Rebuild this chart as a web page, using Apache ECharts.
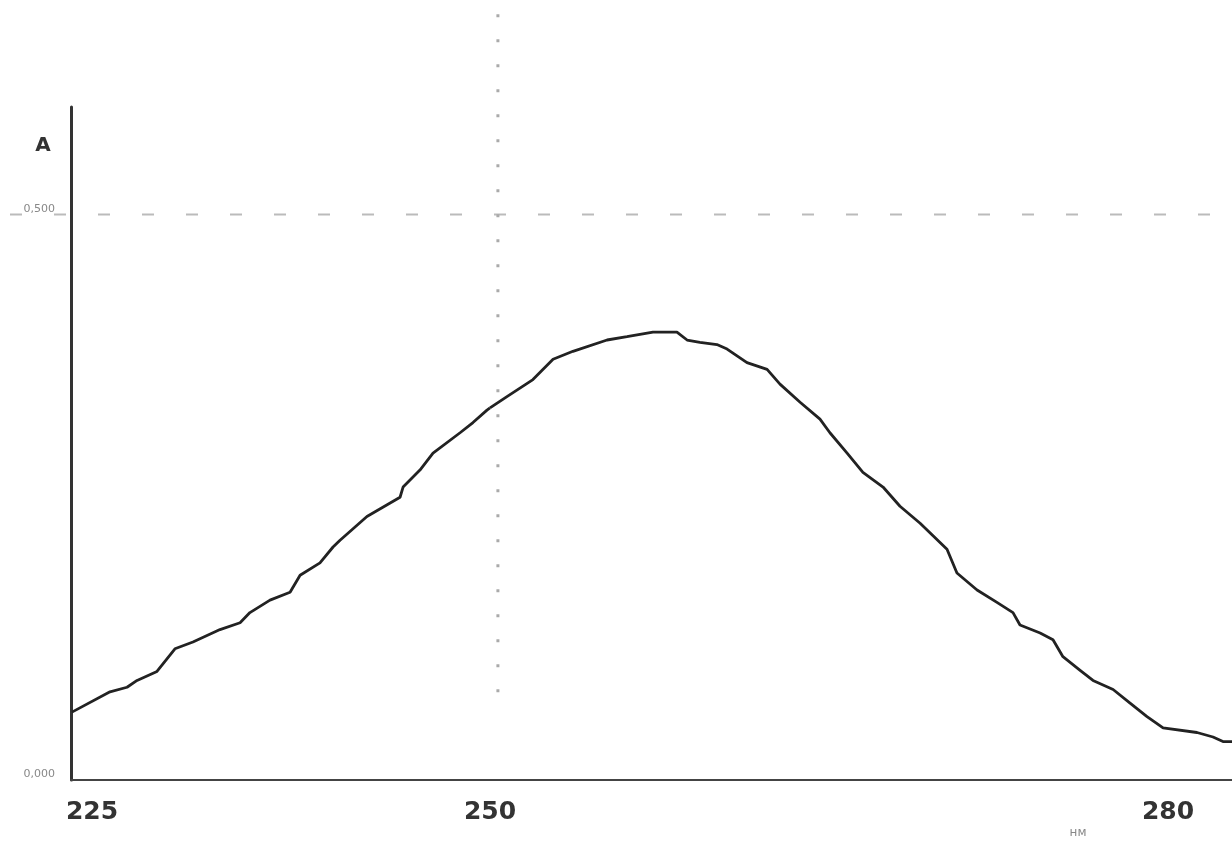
<!DOCTYPE html>
<html>
<head>
<meta charset="utf-8">
<script src="https://cdn.jsdelivr.net/npm/echarts@6/dist/echarts.min.js"></script>
<style>
  html, body { margin: 0; padding: 0; background: #fff; }
  #main { width: 1232px; height: 841px; }
</style>
</head>
<body>
<div id="main"></div>
<script>
// wavelength (nm) and absorbance
var wavelength = [
    223.74, 226.13, 227.2, 227.83, 229.08, 230.21, 231.34, 233.04, 234.3, 234.92,
    236.18, 237.44, 238.07, 239.32, 240.14, 240.58, 242.27, 244.35, 244.54, 245.6,
    246.42, 248.12, 248.93, 249.81, 250,
    250.75, 251.9, 252.79, 253.67, 255.18, 256.06, 257.21, 258.27, 258.72, 259.29,
    260.04, 260.49, 261.37, 262.26, 262.83, 263.72, 264.6, 265.04, 265.8, 266.5,
    267.39, 268.14, 269.03, 270.22, 270.66, 271.55, 272.43, 273.14, 273.45, 274.34,
    274.91, 275.35, 276.11, 276.68, 277.57, 278.32, 279.07, 279.78, 281.28, 281.99,
    282.43, 282.83
];
var absorbance = [
    0.060, 0.078, 0.082, 0.088, 0.096, 0.116, 0.122, 0.133, 0.139, 0.148,
    0.159, 0.166, 0.181, 0.192, 0.206, 0.212, 0.233, 0.250, 0.259, 0.274,
    0.289, 0.307, 0.316, 0.327, 0.329,
    0.339, 0.354, 0.372, 0.379, 0.389, 0.392, 0.396, 0.396, 0.389, 0.387,
    0.385, 0.381, 0.369, 0.363, 0.350, 0.334, 0.319, 0.307, 0.289, 0.272,
    0.259, 0.242, 0.227, 0.204, 0.183, 0.168, 0.157, 0.148, 0.137, 0.130,
    0.124, 0.109, 0.097, 0.088, 0.080, 0.068, 0.056, 0.046, 0.042, 0.038,
    0.034, 0.034
];
var xTicksLeft = [225];
var xTicksRight = [250, 280];
var yTicks = [0, 0.5];
var markerWave = 250.35;   // dotted vertical guide
var markerTop = 0.677;
var markerBottom = 0.071;
var refLevel = 0.5;        // dashed horizontal guide

var leftData = [], rightData = [];
for (var i = 0; i < wavelength.length; i++) {
    if (wavelength[i] <= 250) leftData.push([wavelength[i], absorbance[i]]);
    if (wavelength[i] >= 250) rightData.push([wavelength[i], absorbance[i]]);
}

var chartDom = document.getElementById('main');
var myChart = echarts.init(chartDom);
var option;

var xLabel = {
    fontFamily: 'DejaVu Sans',
    fontSize: 25,
    fontWeight: 'bold',
    color: '#333',
    margin: 20
};

option = {
    animation: false,
    backgroundColor: '#fff',
    grid: [
        { left: 71, top: 107, width: 419, bottom: 61 },
        { left: 490, top: 107, right: 0, bottom: 61 }
    ],
    xAxis: [
        {
            gridIndex: 0,
            type: 'value',
            min: 223.68,
            max: 250,
            axisLine: { lineStyle: { color: '#444', width: 2 } },
            axisTick: { show: false },
            splitLine: { show: false },
            axisLabel: Object.assign({ customValues: xTicksLeft }, xLabel)
        },
        {
            gridIndex: 1,
            type: 'value',
            min: 250,
            max: 282.83,
            axisLine: { lineStyle: { color: '#444', width: 2 } },
            axisTick: { show: false },
            splitLine: { show: false },
            axisLabel: Object.assign({ customValues: xTicksRight }, xLabel)
        }
    ],
    yAxis: [
        {
            gridIndex: 0,
            type: 'value',
            min: 0,
            max: 0.595,
            axisLine: { show: true, lineStyle: { color: '#333', width: 3 } },
            axisTick: { show: false },
            splitLine: { show: false },
            axisLabel: {
                customValues: yTicks,
                fontFamily: 'DejaVu Sans',
                fontSize: 11,
                color: '#888',
                margin: 16,
                verticalAlign: 'bottom',
                formatter: function (v) { return v.toFixed(3).replace('.', ','); }
            }
        },
        {
            gridIndex: 1,
            type: 'value',
            min: 0,
            max: 0.595,
            show: false
        }
    ],
    series: [
        {
            type: 'line',
            xAxisIndex: 0,
            yAxisIndex: 0,
            data: leftData,
            showSymbol: false,
            lineStyle: { color: '#222', width: 2.8 }
        },
        {
            type: 'line',
            xAxisIndex: 1,
            yAxisIndex: 1,
            data: rightData,
            showSymbol: false,
            lineStyle: { color: '#222', width: 2.8 }
        }
    ]
};

option && myChart.setOption(option);

// guide lines placed through the axes' own scales
var yRef = myChart.convertToPixel({ yAxisIndex: 0 }, refLevel);
var xMark = myChart.convertToPixel({ xAxisIndex: 1 }, markerWave);
var yMarkTop = myChart.convertToPixel({ yAxisIndex: 0 }, markerTop);
var yMarkBottom = myChart.convertToPixel({ yAxisIndex: 0 }, markerBottom);

myChart.setOption({
    graphic: [
        {
            type: 'line',
            z: 1,
            shape: { x1: 10, y1: yRef, x2: 1232, y2: yRef },
            style: { stroke: '#bbb', lineWidth: 2, lineDash: [12, 32] }
        },
        {
            type: 'line',
            z: 1,
            shape: { x1: xMark, y1: yMarkTop, x2: xMark, y2: yMarkBottom },
            style: { stroke: '#aaa', lineWidth: 3, lineDash: [3, 22] }
        },
        {
            type: 'text',
            x: 43,
            y: 146,
            style: {
                text: 'A',
                fontFamily: 'DejaVu Sans',
                fontSize: 20,
                fontWeight: 'bold',
                fill: '#333',
                align: 'center',
                verticalAlign: 'middle'
            }
        },
        {
            type: 'text',
            x: 1078,
            y: 833,
            style: {
                text: 'нм',
                fontFamily: 'DejaVu Sans',
                fontSize: 12,
                fill: '#888',
                align: 'center',
                verticalAlign: 'middle'
            }
        }
    ]
});
</script>
</body>
</html>
